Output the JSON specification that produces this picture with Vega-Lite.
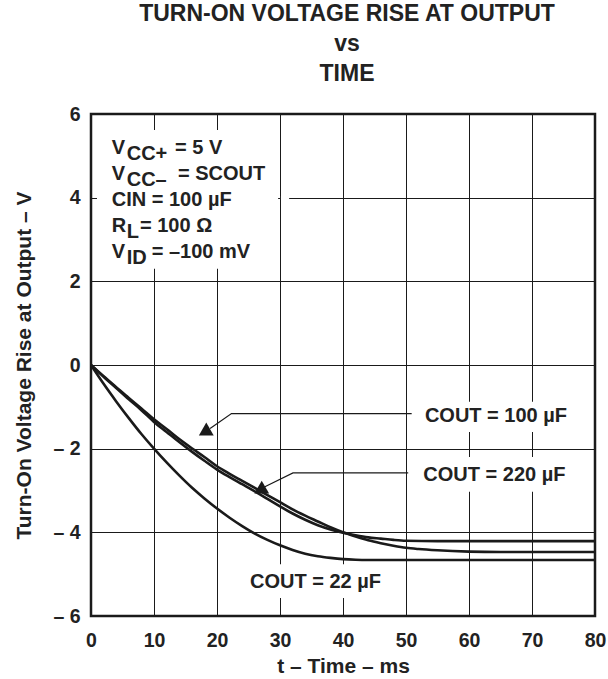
{
  "$schema": "https://vega.github.io/schema/vega-lite/v6.json",
  "width": 504,
  "height": 502,
  "autosize": "none",
  "padding": {"left": 91, "top": 114, "right": 13, "bottom": 63},
  "background": "white",
  "title": {
    "text": ["TURN-ON VOLTAGE RISE AT OUTPUT", "vs", "TIME"],
    "fontSize": 23,
    "lineHeight": 30,
    "font": "Liberation Sans",
    "fontWeight": "bold",
    "color": "#222222",
    "anchor": "middle",
    "dx": 4,
    "offset": 18
  },
  "config": {
    "font": "Liberation Sans",
    "view": {"stroke": "#1a1a1a", "strokeWidth": 2.5},
    "axis": {
      "grid": true,
      "gridColor": "#1a1a1a",
      "gridOpacity": 1,
      "gridWidth": 1,
      "ticks": false,
      "tickSize": 0,
      "domain": false,
      "labelFont": "Liberation Sans",
      "labelFontWeight": "bold",
      "labelFontSize": 19.5,
      "labelColor": "#222222",
      "titleFont": "Liberation Sans",
      "titleFontWeight": "bold",
      "titleFontSize": 21,
      "titleColor": "#222222"
    }
  },
  "datasets": {
    "curves": [
      {"series": "22", "t": 0, "v": 0}, {"series": "22", "t": 2, "v": -0.45}, {"series": "22", "t": 4, "v": -0.87},
      {"series": "22", "t": 6, "v": -1.27}, {"series": "22", "t": 8, "v": -1.65}, {"series": "22", "t": 10, "v": -2.0},
      {"series": "22", "t": 12, "v": -2.33}, {"series": "22", "t": 14, "v": -2.64}, {"series": "22", "t": 16, "v": -2.93},
      {"series": "22", "t": 18, "v": -3.19}, {"series": "22", "t": 20, "v": -3.43}, {"series": "22", "t": 22, "v": -3.65},
      {"series": "22", "t": 24, "v": -3.85}, {"series": "22", "t": 26, "v": -4.03}, {"series": "22", "t": 28, "v": -4.18},
      {"series": "22", "t": 30, "v": -4.31}, {"series": "22", "t": 32, "v": -4.42}, {"series": "22", "t": 34, "v": -4.51},
      {"series": "22", "t": 36, "v": -4.57}, {"series": "22", "t": 38, "v": -4.61}, {"series": "22", "t": 40, "v": -4.64},
      {"series": "22", "t": 42, "v": -4.655}, {"series": "22", "t": 44, "v": -4.66}, {"series": "22", "t": 50, "v": -4.66},
      {"series": "22", "t": 60, "v": -4.66}, {"series": "22", "t": 70, "v": -4.66}, {"series": "22", "t": 80, "v": -4.66},

      {"series": "100", "t": 0, "v": 0}, {"series": "100", "t": 2, "v": -0.27}, {"series": "100", "t": 4, "v": -0.53},
      {"series": "100", "t": 6, "v": -0.79}, {"series": "100", "t": 8, "v": -1.04}, {"series": "100", "t": 10, "v": -1.3},
      {"series": "100", "t": 12, "v": -1.53}, {"series": "100", "t": 14, "v": -1.77}, {"series": "100", "t": 16, "v": -1.99},
      {"series": "100", "t": 18, "v": -2.2}, {"series": "100", "t": 20, "v": -2.42}, {"series": "100", "t": 22, "v": -2.6},
      {"series": "100", "t": 24, "v": -2.77}, {"series": "100", "t": 26, "v": -2.94}, {"series": "100", "t": 28, "v": -3.11},
      {"series": "100", "t": 30, "v": -3.28}, {"series": "100", "t": 32, "v": -3.45}, {"series": "100", "t": 34, "v": -3.6},
      {"series": "100", "t": 36, "v": -3.74}, {"series": "100", "t": 38, "v": -3.88}, {"series": "100", "t": 40, "v": -4.0},
      {"series": "100", "t": 42, "v": -4.1}, {"series": "100", "t": 44, "v": -4.19}, {"series": "100", "t": 46, "v": -4.26},
      {"series": "100", "t": 48, "v": -4.32}, {"series": "100", "t": 50, "v": -4.37}, {"series": "100", "t": 52, "v": -4.4},
      {"series": "100", "t": 55, "v": -4.43}, {"series": "100", "t": 60, "v": -4.46}, {"series": "100", "t": 65, "v": -4.47},
      {"series": "100", "t": 70, "v": -4.47}, {"series": "100", "t": 80, "v": -4.47},

      {"series": "220", "t": 0, "v": 0}, {"series": "220", "t": 2, "v": -0.28}, {"series": "220", "t": 4, "v": -0.55},
      {"series": "220", "t": 6, "v": -0.82}, {"series": "220", "t": 8, "v": -1.08}, {"series": "220", "t": 10, "v": -1.36},
      {"series": "220", "t": 12, "v": -1.6}, {"series": "220", "t": 14, "v": -1.84}, {"series": "220", "t": 16, "v": -2.07},
      {"series": "220", "t": 18, "v": -2.29}, {"series": "220", "t": 20, "v": -2.5}, {"series": "220", "t": 22, "v": -2.68},
      {"series": "220", "t": 24, "v": -2.85}, {"series": "220", "t": 26, "v": -3.02}, {"series": "220", "t": 28, "v": -3.2},
      {"series": "220", "t": 30, "v": -3.38}, {"series": "220", "t": 32, "v": -3.55}, {"series": "220", "t": 34, "v": -3.7},
      {"series": "220", "t": 36, "v": -3.83}, {"series": "220", "t": 38, "v": -3.93}, {"series": "220", "t": 40, "v": -4.01},
      {"series": "220", "t": 42, "v": -4.07}, {"series": "220", "t": 44, "v": -4.12}, {"series": "220", "t": 46, "v": -4.15},
      {"series": "220", "t": 48, "v": -4.18}, {"series": "220", "t": 50, "v": -4.2}, {"series": "220", "t": 55, "v": -4.21},
      {"series": "220", "t": 60, "v": -4.21}, {"series": "220", "t": 70, "v": -4.21}, {"series": "220", "t": 80, "v": -4.21}
    ],
    "boxes": [
      {"t": 0.95, "t2": 29.7, "v": 5.62, "v2": 2.3},
      {"t": 30.15, "t2": 31.45, "v": 4.05, "v2": 3.95},
      {"t": 51.2, "t2": 79.5, "v": -0.88, "v2": -1.6},
      {"t": 51.2, "t2": 79.5, "v": -2.2, "v2": -3.03},
      {"t": 24.4, "t2": 47.8, "v": -4.76, "v2": -5.57}
    ],
    "leaders": [
      {"g": "a", "t": 18.9, "v": -1.52}, {"g": "a", "t": 22.3, "v": -1.16}, {"g": "a", "t": 50.9, "v": -1.16},
      {"g": "b", "t": 27.6, "v": -2.91}, {"g": "b", "t": 32.06, "v": -2.58}, {"g": "b", "t": 50.35, "v": -2.58}
    ],
    "arrows": [
      {"t": 18.3, "v": -1.53},
      {"t": 27.1, "v": -2.92}
    ],
    "labels": [
      {"t": 3.29, "v": 5.04, "txt": "V"},
      {"t": 13.33, "v": 5.04, "txt": "= 5 V"},
      {"t": 3.29, "v": 4.42, "txt": "V"},
      {"t": 13.8, "v": 4.42, "txt": "= SCOUT"},
      {"t": 3.29, "v": 3.8, "txt": "CIN = 100 µF"},
      {"t": 3.29, "v": 3.18, "txt": "R"},
      {"t": 7.78, "v": 3.18, "txt": "= 100 Ω"},
      {"t": 3.29, "v": 2.56, "txt": "V"},
      {"t": 9.63, "v": 2.56, "txt": "= –100 mV"},
      {"t": 53.0, "v": -1.355, "txt": "COUT = 100 µF"},
      {"t": 52.75, "v": -2.77, "txt": "COUT = 220 µF"},
      {"t": 25.24, "v": -5.34, "txt": "COUT = 22 µF"}
    ],
    "subs": [
      {"t": 5.67, "v": 4.9, "txt": "CC+"},
      {"t": 5.67, "v": 4.28, "txt": "CC–"},
      {"t": 5.67, "v": 3.04, "txt": "L"},
      {"t": 5.67, "v": 2.42, "txt": "ID"}
    ]
  },
  "encoding": {
    "x": {
      "field": "t",
      "type": "quantitative",
      "scale": {"domain": [0, 80], "nice": false, "zero": false},
      "axis": {
        "values": [0, 10, 20, 30, 40, 50, 60, 70, 80],
        "title": "t – Time – ms",
        "labelPadding": 15,
        "titlePadding": 6,
        "labelFlush": false
      }
    },
    "y": {
      "field": "v",
      "type": "quantitative",
      "scale": {"domain": [-6, 6], "nice": false, "zero": false},
      "axis": {
        "values": [-6, -4, -2, 0, 2, 4, 6],
        "labelExpr": "datum.value < 0 ? '– ' + abs(datum.value) : datum.label",
        "title": "Turn-On Voltage Rise at Output – V",
        "labelPadding": 11,
        "titlePadding": 18,
        "labelFlush": false
      }
    }
  },
  "layer": [
    {
      "data": {"name": "boxes"},
      "mark": {"type": "rect", "fill": "white", "stroke": null},
      "encoding": {"x2": {"field": "t2"}, "y2": {"field": "v2"}}
    },
    {
      "data": {"name": "curves"},
      "mark": {"type": "line", "color": "#1a1a1a", "strokeWidth": 2.6, "interpolate": "monotone"},
      "encoding": {"detail": {"field": "series"}}
    },
    {
      "data": {"name": "leaders"},
      "mark": {"type": "line", "color": "#1a1a1a", "strokeWidth": 1.2},
      "encoding": {"detail": {"field": "g"}}
    },
    {
      "data": {"name": "arrows"},
      "mark": {"type": "point", "shape": "triangle-up", "filled": true, "color": "#1a1a1a", "size": 220, "opacity": 1}
    },
    {
      "data": {"name": "labels"},
      "mark": {"type": "text", "align": "left", "baseline": "alphabetic", "fontSize": 20, "fontWeight": "bold", "font": "Liberation Sans", "color": "#222222"},
      "encoding": {"text": {"field": "txt"}}
    },
    {
      "data": {"name": "subs"},
      "mark": {"type": "text", "align": "left", "baseline": "alphabetic", "fontSize": 20, "fontWeight": "bold", "font": "Liberation Sans", "color": "#222222"},
      "encoding": {"text": {"field": "txt"}}
    }
  ]
}
